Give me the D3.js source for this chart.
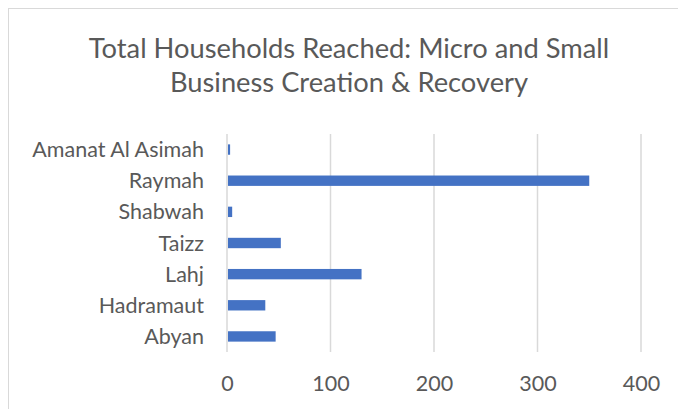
<!DOCTYPE html>
<html>
<head>
<meta charset="utf-8">
<script src="https://cdn.jsdelivr.net/npm/d3@7"></script>
<style>
  html, body { margin: 0; padding: 0; background: #fff; }
  svg { display: block; font-family: Lato, "Open Sans", sans-serif; }
</style>
</head>
<body>
<div id="chart"></div>
<script>
// data, top to bottom
const regions = ['Amanat Al Asimah', 'Raymah', 'Shabwah', 'Taizz', 'Lahj', 'Hadramaut', 'Abyan']
const households = [3, 350, 5, 52, 130, 37, 47]
const xTicks = [0, 100, 200, 300, 400]
const titleLines = ['Total Households Reached: Micro and Small', 'Business Creation & Recovery']

const width = 678, height = 409
const margins = { top: 134, right: 37, bottom: 57, left: 227 }

const svg = d3.select('#chart').append('svg')
  .attr('width', width)
  .attr('height', height)

// chart area border (right and bottom run off the picture)
svg.append('rect')
  .attr('x', 8.5).attr('y', 8.5)
  .attr('width', width + 20).attr('height', height + 20)
  .attr('fill', '#fff')
  .attr('stroke', '#d9d9d9')
  .attr('stroke-width', 1)

svg.append('text')
  .attr('text-anchor', 'middle')
  .attr('fill', '#595959')
  .style('font-size', '27.3px')
  .selectAll('tspan')
  .data(titleLines)
  .enter().append('tspan')
  .attr('x', 349)
  .attr('y', (d, i) => 58 + i * 34)
  .text(d => d)

let xScale = d3.scaleLinear()
  .domain([0, 400])
  .range([margins.left, width - margins.right])

let yScale = d3.scaleBand()
  .domain(regions)
  .range([margins.top, height - margins.bottom])
  .paddingInner(0.667)
  .paddingOuter(0.333)

// vertical gridlines
svg.append('g')
  .selectAll('line')
  .data(xTicks)
  .enter().append('line')
  .attr('x1', d => xScale(d)).attr('x2', d => xScale(d))
  .attr('y1', margins.top).attr('y2', height - margins.bottom)
  .attr('stroke', '#d9d9d9')
  .attr('stroke-width', 1.5)

// bars
svg.append('g')
  .selectAll('rect')
  .data(regions)
  .enter().append('rect')
  .attr('x', xScale(0) + 1)
  .attr('y', d => yScale(d))
  .attr('width', (d, i) => xScale(households[i]) - xScale(0) - 1)
  .attr('height', yScale.bandwidth())
  .attr('fill', '#4472c4')

// category labels
svg.append('g')
  .selectAll('text')
  .data(regions)
  .enter().append('text')
  .attr('x', 204)
  .attr('y', d => yScale(d) + yScale.bandwidth() / 2)
  .attr('dy', '0.35em')
  .attr('text-anchor', 'end')
  .attr('fill', '#595959')
  .style('font-size', '21.5px')
  .text(d => d)

// x axis labels
let xAxis = svg.append('g')
  .attr('transform', `translate(0,${height - margins.bottom + 31})`)
  .call(d3.axisBottom(xScale).tickValues(xTicks).tickSize(0).tickPadding(0))
xAxis.select('.domain').remove()
xAxis.selectAll('text')
  .attr('fill', '#595959')
  .attr('dy', '0.35em')
  .style('font-size', '21.5px')
  .style('font-family', 'Lato, "Open Sans", sans-serif')
</script>
</body>
</html>
